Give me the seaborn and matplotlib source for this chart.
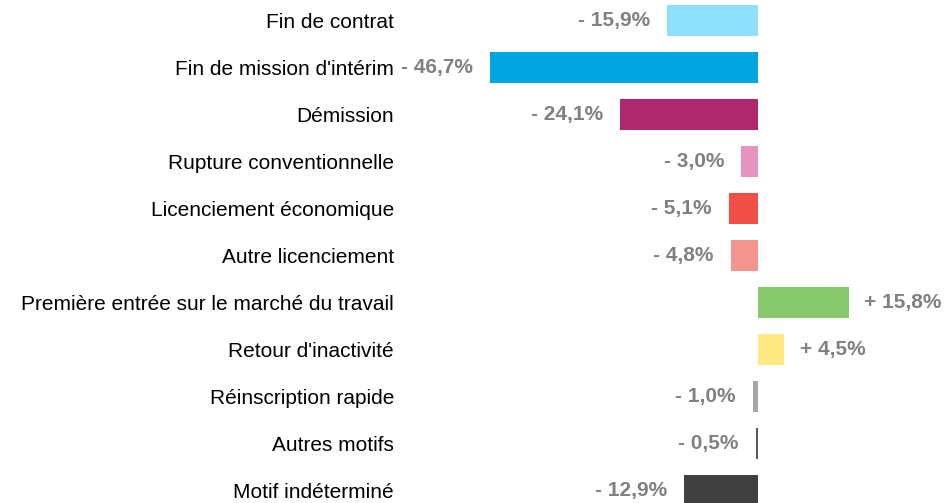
import pandas as pd
import matplotlib
matplotlib.use('Agg')
import matplotlib.pyplot as plt
import seaborn as sns

motifs = [
    "Fin de contrat",
    "Fin de mission d'intérim",
    "Démission",
    "Rupture conventionnelle",
    "Licenciement économique",
    "Autre licenciement",
    "Première entrée sur le marché du travail",
    "Retour d'inactivité",
    "Réinscription rapide",
    "Autres motifs",
    "Motif indéterminé",
]
variations = [-15.9, -46.7, -24.1, -3.0, -5.1, -4.8, 15.8, 4.5, -1.0, -0.5, -12.9]
couleurs = ['#8FE0FB', '#00A6E2', '#B0286E', '#E693C0', '#F24E48', '#F4958D',
            '#88C96E', '#FEE983', '#A6A6A6', '#595959', '#404040']


def fmt(v):
    signe = '+' if v > 0 else '-'
    return f"{signe} {abs(v):.1f}%".replace('.', ',')


df = pd.DataFrame({'motif': motifs, 'variation': variations})

sns.set_style('white')
plt.rcParams['font.family'] = ['Liberation Sans', 'DejaVu Sans']

fig = plt.figure(figsize=(9.52, 5.03), dpi=100)
ax = fig.add_axes([0.43, 0.0, 0.57, 1.0])

sns.barplot(data=df, y='motif', x='variation', hue='motif', palette=couleurs,
            orient='h', width=0.66, legend=False, saturation=1,
            linewidth=0, ax=ax)

ax.set_xlim(-60.8, 33.7)
ax.set_ylim(10.266, -0.436)
sns.despine(ax=ax, left=True, bottom=True)
ax.set_xticks([])
ax.set_xlabel('')
ax.set_ylabel('')
ax.tick_params(axis='y', length=0, pad=11, labelsize=15, labelcolor='black')

for i, v in enumerate(variations):
    if v < 0:
        ax.annotate(fmt(v), (v, i), xytext=(-12.5, 0), textcoords='offset points',
                    ha='right', va='center', fontsize=15, fontweight='bold', color='#808080')
    else:
        ax.annotate(fmt(v), (v, i), xytext=(11, 0), textcoords='offset points',
                    ha='left', va='center', fontsize=15, fontweight='bold', color='#808080')

plt.savefig('out.png', dpi=100)
